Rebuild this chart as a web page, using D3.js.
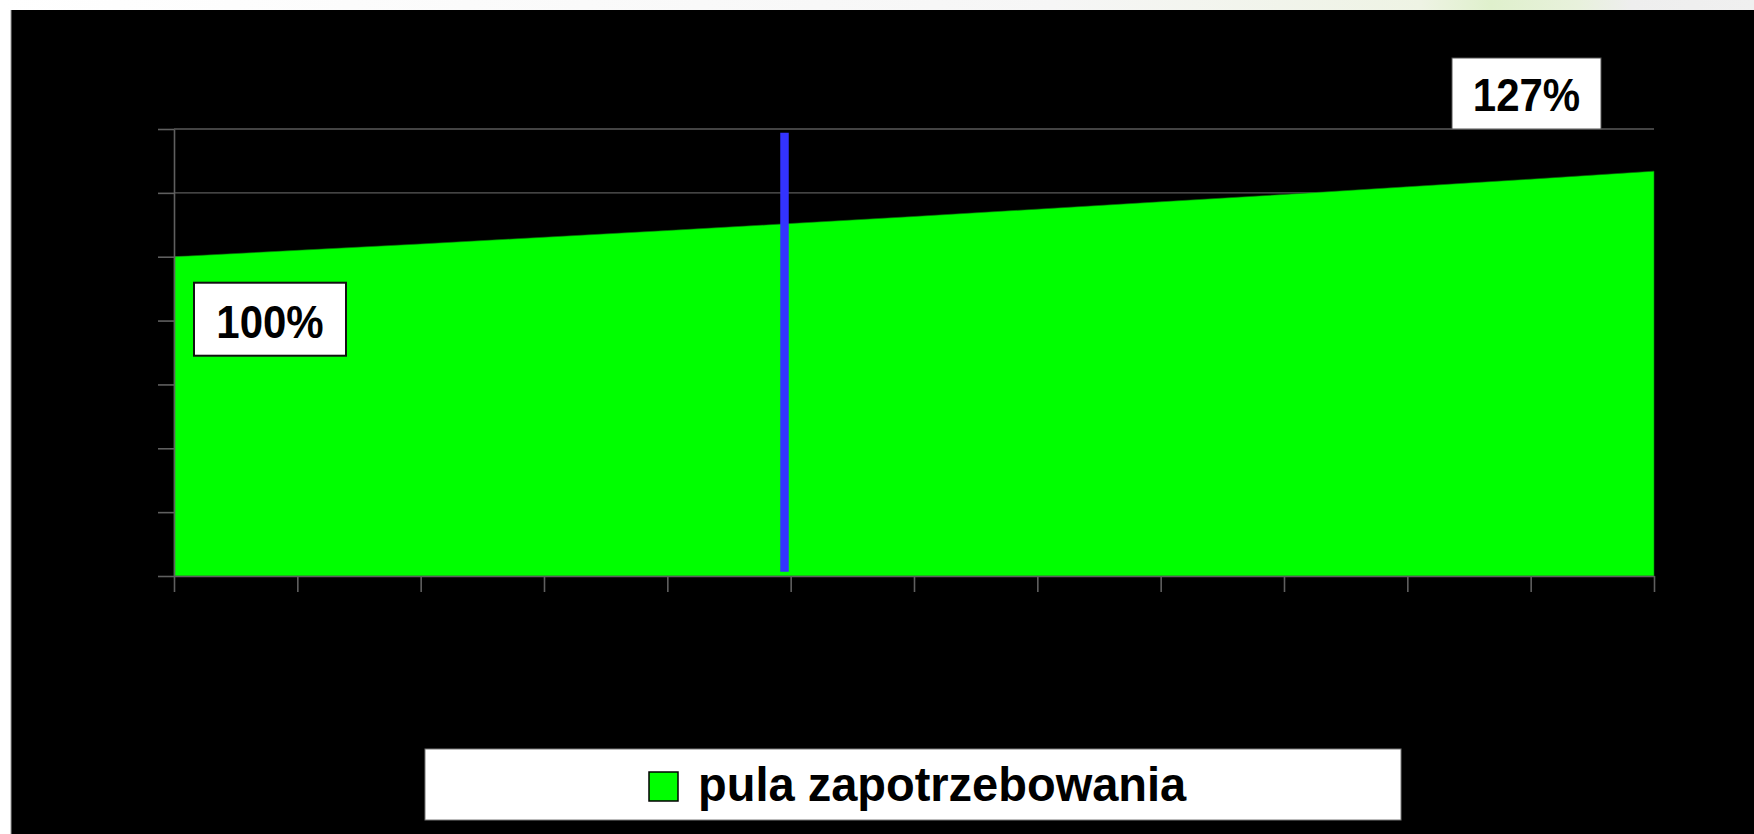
<!DOCTYPE html>
<html>
<head>
<meta charset="utf-8">
<title>pula zapotrzebowania</title>
<script src="https://d3js.org/d3.v7.min.js"></script>
<style>
    html, body { margin: 0; padding: 0; background: #ffffff; overflow: hidden; }
    .chart { width: 1754px; height: 834px; }
    .chart text { font-family: "Liberation Sans", Arial, sans-serif; font-weight: bold; }
    .chart__axis path, .chart__axis line { stroke: #5f5f5f; stroke-width: 1.6; }
    .chart__grid line { stroke: #5a5a5a; stroke-width: 1.4; }
</style>
</head>
<body>
<div class="chart"></div>
<script>
// DATA *****************************************************************
// 13 periods on the category axis (their labels are not shown in the chart)
var categories = ['0', '1', '2', '3', '4', '5', '6', '7', '8', '9', '10', '11', '12'];
// pula zapotrzebowania, % of the first period
var demandPool = [100, 102, 104, 106.1, 108.2, 110.4, 112.6, 114.9, 117.2, 119.5, 121.9, 124.3, 126.8];
var yTicks = [0, 20, 40, 60, 80, 100, 120, 140];
var seriesName = 'pula zapotrzebowania';
// blue marker between periods 4 and 5
var markerAt = 4.95;
var markerRange = [1.3, 138.8];
// value boxes
var firstLabel = '100%';
var lastLabel = '127%';

(function() {
    'use strict';

    // MARGIN CONVENTION ************************************************
    var W = 1754, H = 834;
    var margin = {top: 129, right: 100, bottom: 258, left: 174};
    var width = W - margin.left - margin.right,
        height = H - margin.top - margin.bottom;

    var root = d3.select('.chart').append('svg')
                    .attr('width', W)
                    .attr('height', H);

    // BACKGROUND (slide strip on top, black chart frame)
    var defs = root.append('defs');
    var grad = defs.append('linearGradient').attr('id', 'strip');
    grad.append('stop').attr('offset', '0%').attr('stop-color', '#ffffff');
    grad.append('stop').attr('offset', '60%').attr('stop-color', '#f6f6f6');
    grad.append('stop').attr('offset', '81%').attr('stop-color', '#eef3e4');
    grad.append('stop').attr('offset', '85%').attr('stop-color', '#dff0cc');
    grad.append('stop').attr('offset', '90%').attr('stop-color', '#e8f1dc');
    grad.append('stop').attr('offset', '93%').attr('stop-color', '#eeeeee');
    grad.append('stop').attr('offset', '100%').attr('stop-color', '#f0f0f0');
    root.append('rect').attr('x', 0).attr('y', 0).attr('width', W).attr('height', 10)
        .attr('fill', 'url(#strip)');
    root.append('rect').attr('x', 11).attr('y', 10).attr('width', W - 11).attr('height', H - 10)
        .attr('fill', '#000000');
    root.append('line').attr('x1', 11).attr('x2', 11).attr('y1', 10).attr('y2', H)
        .attr('stroke', '#9a9a9a').attr('stroke-width', 1);

    var svg = root.append('g')
                .attr('transform', 'translate(' + margin.left + ',' + margin.top + ')');

    // SCALES ***********************************************************
    var xScale = d3.scaleLinear()
                    .domain([0, categories.length - 1])
                    .range([0, width]);
    var yScale = d3.scaleLinear()
                    .domain([0, 140])
                    .range([height, 0]);

    // GRIDLINES
    svg.append('g')
        .attr('class', 'chart__grid')
        .selectAll('line')
        .data(yTicks.filter(function(t) { return t > 0; }))
        .enter()
        .append('line')
        .attr('x1', 0)
        .attr('x2', width)
        .attr('y1', function(d) { return yScale(d); })
        .attr('y2', function(d) { return yScale(d); });

    // AREA *************************************************************
    var area = d3.area()
                    .x(function(d, i) { return xScale(i); })
                    .y0(yScale(0))
                    .y1(function(d) { return yScale(d); });

    svg.append('path')
        .datum(demandPool)
        .attr('class', 'chart__area')
        .attr('d', area)
        .attr('fill', '#00ff00')
        .attr('stroke', '#0a7a0a')
        .attr('stroke-width', 0.6);

    // AXES *************************************************************
    var xAxis = d3.axisBottom(xScale)
                    .tickValues(d3.range(categories.length))
                    .tickSizeInner(16)
                    .tickSizeOuter(0)
                    .tickFormat('');
    var yAxis = d3.axisLeft(yScale)
                    .tickValues(yTicks)
                    .tickSizeInner(16)
                    .tickSizeOuter(0)
                    .tickFormat('');

    svg.append('g')
        .attr('class', 'chart__axis chart__axis--y')
        .call(yAxis);
    svg.append('g')
        .attr('class', 'chart__axis chart__axis--x')
        .attr('transform', 'translate(0,' + height + ')')
        .call(xAxis);

    // BLUE MARKER
    svg.append('line')
        .attr('x1', xScale(markerAt))
        .attr('x2', xScale(markerAt))
        .attr('y1', yScale(markerRange[0]))
        .attr('y2', yScale(markerRange[1]))
        .attr('stroke', '#3333ff')
        .attr('stroke-width', 8.5);

    // VALUE BOXES ******************************************************
    // text in the original is slightly stretched vertically
    var first = svg.append('g')
                    .attr('transform', 'translate(' + (xScale(0) + 20) + ',' + (yScale(demandPool[0]) + 26) + ')');
    first.append('rect')
        .attr('width', 152).attr('height', 73)
        .attr('fill', '#ffffff')
        .attr('stroke', '#111111')
        .attr('stroke-width', 2);
    first.append('text')
        .attr('transform', 'translate(76,55) scale(1,1.08)')
        .attr('text-anchor', 'middle')
        .attr('font-size', 42)
        .attr('fill', '#000000')
        .text(firstLabel);

    var last = svg.append('g')
                    .attr('transform', 'translate(' + (xScale(categories.length - 1) - 202) + ',' + (yScale(140) - 71) + ')');
    last.append('rect')
        .attr('width', 149).attr('height', 71)
        .attr('fill', '#ffffff')
        .attr('stroke', '#555555')
        .attr('stroke-width', 1);
    last.append('text')
        .attr('transform', 'translate(74.5,53) scale(1,1.08)')
        .attr('text-anchor', 'middle')
        .attr('font-size', 42)
        .attr('fill', '#000000')
        .text(lastLabel);

    // LEGEND ***********************************************************
    var legend = root.append('g')
                    .attr('class', 'chart__legend')
                    .attr('transform', 'translate(425,749)');
    legend.append('rect')
        .attr('width', 976).attr('height', 71)
        .attr('fill', '#ffffff')
        .attr('stroke', '#777777')
        .attr('stroke-width', 1);
    legend.append('rect')
        .attr('x', 224).attr('y', 23)
        .attr('width', 29).attr('height', 29)
        .attr('fill', '#00ff00')
        .attr('stroke', '#000000')
        .attr('stroke-width', 1.5);
    legend.append('text')
        .attr('transform', 'translate(273,52) scale(1,1.04)')
        .attr('font-size', 47)
        .attr('fill', '#000000')
        .text(seriesName);

}());
</script>
</body>
</html>
